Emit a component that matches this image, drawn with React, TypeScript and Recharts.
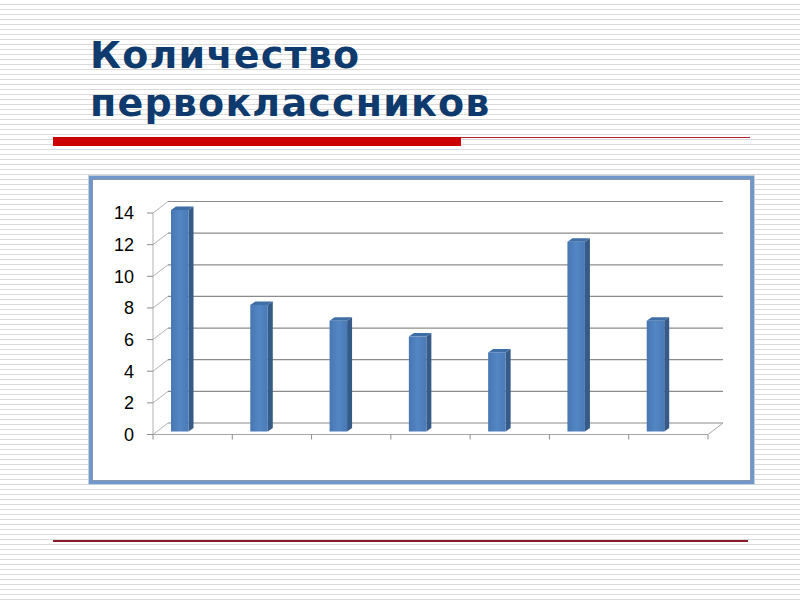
import React from "react"
import { BarChart, Bar, XAxis, YAxis, CartesianGrid } from "recharts"

// first-graders per class / year (labels are not shown on the slide)
const categories = ["1", "2", "3", "4", "5", "6", "7"]
const pupils = [14, 8, 7, 6, 5, 12, 7]
const yTicks = [0, 2, 4, 6, 8, 10, 12, 14]

const data = categories.map((name, i) => ({ name, value: pupils[i] }))

// chart box on the slide
const BOX = { left: 89, top: 176, width: 665, height: 308 }
const PLOT = { left: 64, right: 46, top: 37, bottom: 49.5 }
const PLOT_W = BOX.width - PLOT.left - PLOT.right
const BAND = PLOT_W / categories.length

// 3d depth of the back wall and of the bars
const DX = 15
const DY = 11.5
const BAR_DX = 5
const BAR_DY = 3.5

const gridLine = (props: any) => {
  const { x1, x2, y1, key } = props
  return (
    <g key={key}>
      <line x1={x1} y1={y1} x2={x1 + DX} y2={y1 - DY} stroke="#b3b3b3" strokeWidth={1} />
      <line x1={x1 + DX} y1={y1 - DY} x2={x2 + DX} y2={y1 - DY} stroke="#8c8c8c" strokeWidth={1.2} />
    </g>
  )
}

const XTick = (props: any) => {
  const { x, y, index } = props
  const left = x - BAND / 2
  const right = x + BAND / 2
  return (
    <g>
      <line x1={left} y1={y} x2={left} y2={y + 5} stroke="#8c8c8c" />
      {index === categories.length - 1 && (
        <>
          <line x1={right} y1={y} x2={right} y2={y + 5} stroke="#8c8c8c" />
          <line x1={right} y1={y} x2={right + DX} y2={y - DY} stroke="#a6a6a6" />
        </>
      )}
    </g>
  )
}

const Bar3D = (props: any) => {
  const { x, y, width, height } = props
  const fx = x - 13
  const fy = y - 3
  const w = width
  const h = height
  return (
    <g>
      <polygon
        points={`${fx},${fy} ${fx + BAR_DX},${fy - BAR_DY} ${fx + w + BAR_DX},${fy - BAR_DY} ${fx + w},${fy}`}
        fill="#3f6da5"
      />
      <polygon
        points={`${fx + w},${fy} ${fx + w + BAR_DX},${fy - BAR_DY} ${fx + w + BAR_DX},${fy + h - BAR_DY} ${fx + w},${fy + h}`}
        fill="#365b88"
      />
      <rect x={fx} y={fy} width={w} height={h} fill="url(#barFront)" />
    </g>
  )
}

export default function App() {
  return (
    <div
      style={{
        position: "absolute",
        left: 0,
        top: 0,
        width: 800,
        height: 600,
        overflow: "hidden",
        background:
          "repeating-linear-gradient(to bottom, #ffffff 0px, #ffffff 3.6px, #dadada 3.6px, #dadada 5px)",
      }}
    >
      <div
        style={{
          position: "absolute",
          left: 90,
          top: 31,
          fontFamily: "DejaVu Sans",
          fontWeight: "bold",
          fontSize: 38,
          letterSpacing: 1.2,
          lineHeight: "48px",
          color: "#0e3a6e",
          whiteSpace: "nowrap",
        }}
      >
        Количество
        <br />
        первоклассников
      </div>

      {/* red rules */}
      <div style={{ position: "absolute", left: 53, top: 137, width: 408, height: 9, background: "#cc0000" }} />
      <div style={{ position: "absolute", left: 461, top: 137, width: 289, height: 1, background: "#b3262f" }} />
      <div style={{ position: "absolute", left: 53, top: 540, width: 695, height: 2, background: "#8b1c2c" }} />

      <div
        style={{
          position: "absolute",
          left: BOX.left,
          top: BOX.top,
          width: BOX.width,
          height: BOX.height,
          boxSizing: "border-box",
          background: "#ffffff",
          border: "3px solid #7097cc",
          boxShadow: "inset 0 0 0 1px #8796aa, 0 0 0 1px #c4cfdc",
        }}
      />

      <div style={{ position: "absolute", left: BOX.left, top: BOX.top }}>
        <BarChart
          width={BOX.width}
          height={BOX.height}
          data={data}
          margin={{ top: PLOT.top, right: PLOT.right, left: PLOT.left - 50, bottom: PLOT.bottom - 20 }}
          barSize={17.5}
        >
          <defs>
            <linearGradient id="barFront" x1="0" y1="0" x2="1" y2="0">
              <stop offset="0%" stopColor="#4877b2" />
              <stop offset="50%" stopColor="#5386c4" />
              <stop offset="100%" stopColor="#4a7ab6" />
            </linearGradient>
          </defs>
          <CartesianGrid horizontal={gridLine} vertical={false} />
          <XAxis
            dataKey="name"
            height={20}
            axisLine={{ stroke: "#a6a6a6" }}
            tickLine={false}
            tickSize={0}
            tickMargin={0}
            tick={<XTick />}
            interval={0}
          />
          <YAxis
            width={50}
            domain={[0, 14]}
            ticks={yTicks}
            interval={0}
            axisLine={{ stroke: "#b3b3b3" }}
            tickLine={{ stroke: "#8c8c8c" }}
            tickSize={6}
            tickMargin={13}
            tick={{ fontFamily: "Liberation Sans", fontSize: 18, fill: "#000000" }}
          />
          <Bar dataKey="value" shape={<Bar3D />} isAnimationActive={false} />
        </BarChart>
      </div>
    </div>
  )
}
